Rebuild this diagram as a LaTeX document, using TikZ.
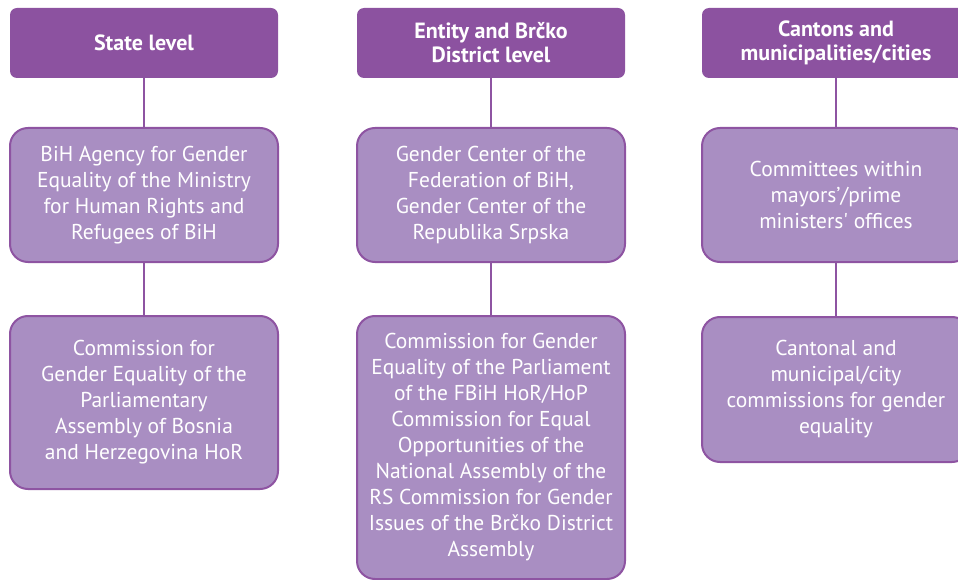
\documentclass[tikz,border=0pt]{standalone}
\usepackage{fontspec}
\setmainfont{PT Sans}
\definecolor{headpurple}{HTML}{8C52A0}
\definecolor{boxpurple}{HTML}{A98EC2}
\definecolor{linepurple}{HTML}{8E54A2}
\begin{document}
\begin{tikzpicture}[x=1pt,y=-1pt,
		head/.style={fill=headpurple,rounded corners=7pt,minimum width=268pt,minimum height=70pt,inner sep=0pt,
			text=white,align=center,font=\bfseries\fontsize{22}{24}\selectfont},
		unit/.style={fill=boxpurple,draw=linepurple,line width=2pt,rounded corners=18pt,minimum width=268pt,inner sep=0pt,
			text=white,align=center,font=\fontsize{21.5}{26}\selectfont},
		link/.style={draw=linepurple,line width=2pt}]
		\useasboundingbox (0,0) rectangle (958,580);
		\node[head] (state) at (144,43) {State level};
		\node[head] (entity) at (491,43) {Entity and Brčko\\District level};
		\node[head] (canton) at (836,43) {Cantons and\\municipalities/cities};
		\node[unit,minimum height=134pt] (stateA) at (144,195) {BiH Agency for Gender\\Equality of the Ministry\\for Human Rights and\\Refugees of BiH};
		\node[unit,minimum height=173pt] (stateB) at (144,402.5) {Commission for\\Gender Equality of the\\Parliamentary\\Assembly of Bosnia\\and Herzegovina HoR};
		\node[unit,minimum height=134pt] (entityA) at (491,195) {Gender Center of the\\Federation of BiH,\\Gender Center of the\\Republika Srpska};
		\node[unit,minimum height=263pt] (entityB) at (491,447.5) {Commission for Gender\\Equality of the Parliament\\of the FBiH HoR/HoP\\Commission for Equal\\Opportunities of the\\National Assembly of the\\RS Commission for Gender\\Issues of the Brčko District\\Assembly};
		\node[unit,minimum height=134pt] (cantonA) at (836,195) {Committees within\\mayors’/prime\\ministers\textquotesingle{} offices};
		\node[unit,minimum height=145pt] (cantonB) at (836,389.5) {Cantonal and\\municipal/city\\commissions for gender\\equality};
		\draw[link] (state) -- (stateA);
		\draw[link] (stateA) -- (stateB);
		\draw[link] (entity) -- (entityA);
		\draw[link] (entityA) -- (entityB);
		\draw[link] (canton) -- (cantonA);
		\draw[link] (cantonA) -- (cantonB);
\end{tikzpicture}
\end{document}
